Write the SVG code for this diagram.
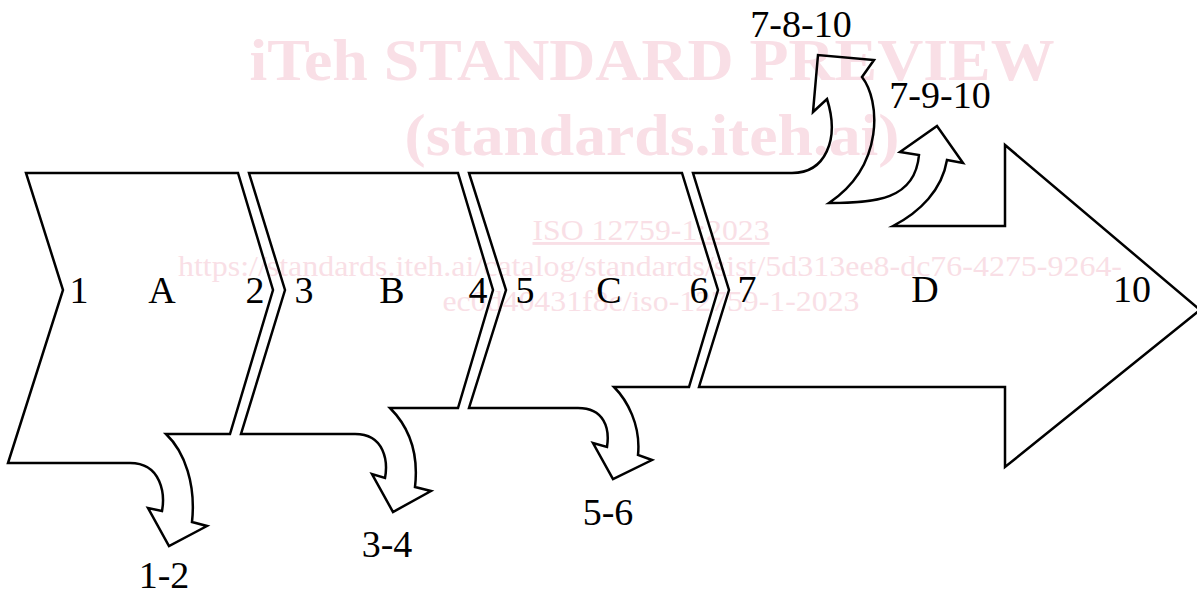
<svg xmlns="http://www.w3.org/2000/svg" width="1197" height="597" viewBox="0 0 1197 597">
<style>
.shape{fill:none;stroke:#000;stroke-width:2.5;stroke-linejoin:miter;stroke-miterlimit:10}
.lbl{font-family:"Liberation Serif",serif;font-size:38px;fill:#000;text-anchor:middle}
.wm{font-family:"Liberation Serif",serif;fill:#f9dfe6;text-anchor:middle}
.wmb{font-weight:bold;font-size:60px}
.wms{font-size:29px}
</style>
<rect width="1197" height="597" fill="#fff"/>
<g id="watermark">
<text class="wm wmb" x="652" y="80" textLength="805" lengthAdjust="spacingAndGlyphs">iTeh STANDARD PREVIEW</text>
<text class="wm wmb" x="652" y="155" textLength="495" lengthAdjust="spacingAndGlyphs">(standards.iteh.ai)</text>
<text class="wm wms" x="651" y="240" textLength="237" lengthAdjust="spacingAndGlyphs" text-decoration="underline">ISO 12759-1:2023</text>
<text class="wm wms" x="650" y="276" textLength="944" lengthAdjust="spacingAndGlyphs">https://standards.iteh.ai/catalog/standards/sist/5d313ee8-dc76-4275-9264-</text>
<text class="wm wms" x="651" y="311" textLength="417" lengthAdjust="spacingAndGlyphs">ec0d40431f8c/iso-12759-1-2023</text>
</g>
<g id="stageA">
<path class="shape" d="M26,173 L238,173 L273,290 L230,434 L166,434 C185,452 196,485 192,522 L207,526 L169,546 L148,508 L162,511 C165,495 162,463 130,463 L8,463 L63,290 Z"/>
<text class="lbl" x="79" y="303">1</text>
<text class="lbl" x="162" y="303">A</text>
<text class="lbl" x="255" y="303">2</text>
<text class="lbl" x="164" y="588">1-2</text>
</g>
<g id="stageB">
<path class="shape" d="M249,173 L458,173 L493,290 L458,408 L390,408 C408,426 419,452 415,487 L431,491 L393,512 L372,474 L385,478 C388,462 385,434 355,434 L241,434 L285,290 Z"/>
<text class="lbl" x="304" y="303">3</text>
<text class="lbl" x="392" y="303">B</text>
<text class="lbl" x="478" y="303">4</text>
<text class="lbl" x="387" y="557">3-4</text>
</g>
<g id="stageC">
<path class="shape" d="M469,173 L682,173 L718,290 L689,387 L614,387 C627,400 641,425 638,455 L652,460 L613,479 L593,443 L607,447 C610,428 604,408 578,408 L469,408 L506,290 Z"/>
<text class="lbl" x="525" y="303">5</text>
<text class="lbl" x="609" y="303">C</text>
<text class="lbl" x="699" y="303">6</text>
<text class="lbl" x="608" y="525">5-6</text>
</g>
<g id="stageD">
<path class="shape" d="M693,173 L792,173 C825,173 840,140 827,99 L813,112 L818,55 L874,60 L862,77 C880,100 885,165 829,203 C875,203 915,200 919,155 L900,152 L937,126 L963,163 L947,160 C942,190 920,212 893,226 L1005,226 L1005,145 L1200,310 L1005,467 L1005,387 L699,387 L729,290 Z"/>
<text class="lbl" x="747" y="302">7</text>
<text class="lbl" x="925" y="302">D</text>
<text class="lbl" x="1132" y="302">10</text>
<text class="lbl" x="801" y="37">7-8-10</text>
<text class="lbl" x="940" y="108">7-9-10</text>
</g>
<g id="connectors"/>
</svg>
